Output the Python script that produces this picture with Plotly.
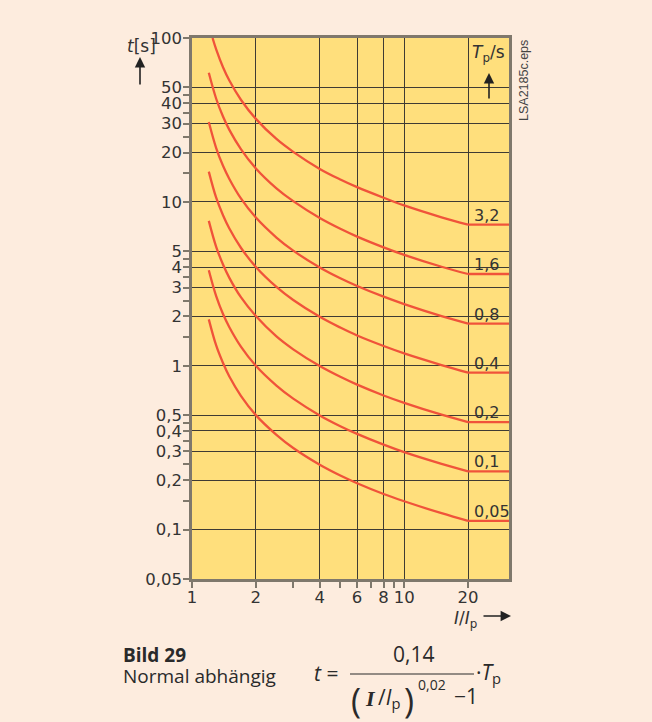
import math
import plotly.graph_objects as go

# Current multiple I/Ip at which each characteristic is tabulated
I_RATIO = [1.2, 1.3, 1.4, 1.5, 1.7, 2, 2.5, 3, 4, 5, 6, 8, 10, 15, 20]
I_RATIO_TOP = [1.25, 1.3, 1.4, 1.5, 1.7, 2, 2.5, 3, 4, 5, 6, 8, 10, 15, 20]
I_END = 31.2  # right edge of the diagram, curves are flat beyond I/Ip = 20

# Tripping time t [s] for each time multiplier setting Tp
T_3_2 = [100, 85.2, 66.3, 55.0, 42.0, 32.1, 24.2, 20.2, 15.9, 13.7, 12.3, 10.6, 9.51, 8.05, 7.26]
T_1_6 = [61.3, 42.6, 33.2, 27.5, 21.0, 16.0, 12.1, 10.1, 7.97, 6.85, 6.14, 5.28, 4.75, 4.02, 3.63]
T_0_8 = [30.7, 21.3, 16.6, 13.8, 10.5, 8.02, 6.06, 5.04, 3.98, 3.42, 3.07, 2.64, 2.38, 2.01, 1.81]
T_0_4 = [15.3, 10.6, 8.29, 6.88, 5.25, 4.01, 3.03, 2.52, 1.99, 1.71, 1.53, 1.32, 1.19, 1.01, 0.907]
T_0_2 = [7.66, 5.32, 4.15, 3.44, 2.62, 2.01, 1.51, 1.26, 0.996, 0.856, 0.767, 0.659, 0.594, 0.503, 0.453]
T_0_1 = [3.83, 2.66, 2.07, 1.72, 1.31, 1.00, 0.757, 0.630, 0.498, 0.428, 0.384, 0.330, 0.297, 0.252, 0.227]
T_0_05 = [1.92, 1.33, 1.04, 0.86, 0.656, 0.50, 0.379, 0.315, 0.249, 0.214, 0.192, 0.165, 0.149, 0.126, 0.113]

TP_LABELS = ["3,2", "1,6", "0,8", "0,4", "0,2", "0,1", "0,05"]

X_TICKS = [1, 2, 4, 6, 8, 10, 20]
X_MINOR = [3, 5, 7, 9]
Y_TICKS = [0.05, 0.1, 0.2, 0.3, 0.4, 0.5, 1, 2, 3, 4, 5, 10, 20, 30, 40, 50, 100]
Y_TICK_TEXT = ["0,05", "0,1", "0,2", "0,3", "0,4", "0,5", "1", "2", "3", "4", "5",
               "10", "20", "30", "40", "50", "100"]
Y_MINOR = [0.15, 0.25, 0.35, 0.45, 1.5, 2.5, 3.5, 4.5, 15, 25, 35, 45]

PAPER = "#fdecde"
PLOT = "#ffdf7c"
CURVE = "#f0533a"
GRID = "#3f3b33"
AXIS = "#7f786c"
TEXT = "#333333"
INK = "#2a2a2a"
FONT = "Open Sans"
NUM_FONT = "DejaVu Sans"

W, H = 652, 722
L, R, T, B = 192, 509, 38, 579


def px(x):
    return (x - L) / (R - L)


def py(y):
    return (B - y) / (B - T)


def note(x, y, text, size, family=FONT, color=INK, xanchor="left", **kw):
    fig.add_annotation(x=px(x), y=py(y), xref="paper", yref="paper", text=text,
                       showarrow=False, xanchor=xanchor, yanchor="middle",
                       font=dict(family=family, size=size, color=color), **kw)


def arrow(x, y, ax, ay):
    fig.add_annotation(x=px(x), y=py(y), xref="paper", yref="paper", text="",
                       showarrow=True, ax=ax, ay=ay, arrowhead=2, arrowsize=1.3,
                       arrowwidth=1.6, arrowcolor="#222222")


fig = go.Figure()

series = [
    (I_RATIO_TOP, T_3_2), (I_RATIO, T_1_6), (I_RATIO, T_0_8), (I_RATIO, T_0_4),
    (I_RATIO, T_0_2), (I_RATIO, T_0_1), (I_RATIO, T_0_05),
]

LABEL_LIFT = 10 ** (9.5 / 164)  # label centre sits ~9 px above the flat segment

for (xs, ts), lab in zip(series, TP_LABELS):
    fig.add_trace(go.Scatter(x=xs, y=ts, mode="lines",
                             line=dict(color=CURVE, width=2.3, shape="spline", smoothing=1.0),
                             hoverinfo="skip", showlegend=False))
    # constant definite time beyond 20 x Ip
    fig.add_trace(go.Scatter(x=[xs[-1], I_END], y=[ts[-1], ts[-1]], mode="lines",
                             line=dict(color=CURVE, width=2.3),
                             hoverinfo="skip", showlegend=False))
    # yellow patch interrupting the grid behind the label
    yc = ts[-1] * LABEL_LIFT
    fig.add_shape(type="rect", xref="paper", yref="y", layer="between",
                  x0=px(470), x1=px(501), y0=yc / 1.085, y1=yc * 1.085,
                  fillcolor=PLOT, line=dict(width=0))
    # log axes: annotation positions are given as log10 values
    fig.add_annotation(x=math.log10(20.8), y=math.log10(yc), xref="x", yref="y",
                       text=lab, showarrow=False,
                       xanchor="left", yanchor="middle",
                       font=dict(family=NUM_FONT, size=16, color=TEXT))

axis_common = dict(
    type="log", showline=True, mirror=True, linecolor=AXIS, linewidth=2.5,
    ticks="outside", ticklen=6, tickwidth=1.5, tickcolor=AXIS,
    showgrid=True, gridcolor=GRID, gridwidth=1, zeroline=False,
    tickfont=dict(family=NUM_FONT, size=16.5, color=TEXT),
)

fig.update_xaxes(**axis_common, range=[0, 1.494], tickmode="array",
                 tickvals=X_TICKS, ticktext=[str(v) for v in X_TICKS],
                 ticklabelstandoff=-5,
                 minor=dict(tickmode="array", tickvals=X_MINOR, ticks="outside",
                            ticklen=6, tickwidth=1.5, tickcolor=AXIS, showgrid=False))
fig.update_yaxes(**axis_common, range=[-1.30103, 2], tickmode="array",
                 tickvals=Y_TICKS, ticktext=Y_TICK_TEXT,
                 ticklabelstandoff=-2,
                 minor=dict(tickmode="array", tickvals=Y_MINOR, ticks="outside",
                            ticklen=6, tickwidth=1.5, tickcolor=AXIS, showgrid=False))

# axis captions with arrows
note(125, 46, "<i>t</i>[s]", 17, family=NUM_FONT, color=TEXT)
arrow(140, 57, 0, 29)

note(507, 53, "<i>T</i><sub>p</sub>/s", 17, family=NUM_FONT, color=TEXT, xanchor="right")
fig.add_shape(type="rect", xref="paper", yref="paper", layer="between",
              x0=px(479), x1=px(498), y0=py(88), y1=py(95),
              fillcolor=PLOT, line=dict(width=0))
arrow(489, 73, 0, 27)

note(479, 619, "<i>I</i>/<i>I</i><sub>p</sub>", 17, family=NUM_FONT, color=TEXT,
     xanchor="right")
arrow(511, 616, -29, 0)

note(515, 81, "LSA2185c.eps", 12.5, family="Liberation Sans", color="#444444",
     textangle=-90)

# caption
note(121, 655, "<b>Bild 29</b>", 19)
note(121, 676, "Normal abhängig", 19)

# formula  t = 0,14 / ((I/Ip)^0,02 - 1) * Tp
note(312, 673, "<i>t</i> =", 21)
note(413, 654, "0,14", 21, xanchor="center")
fig.add_shape(type="line", xref="paper", yref="paper",
              x0=px(350), x1=px(474), y0=py(674), y1=py(674),
              line=dict(color=INK, width=1.2))
note(356, 700, "(", 34, xanchor="center")
note(363, 698, "<b><i>I</i></b>", 22, family="Liberation Serif")
note(376, 698, "/<i>I</i><sub>p</sub>", 21)
note(409, 700, ")", 34, xanchor="center")
note(416, 684, "0,02", 14)
note(452, 696, "−1", 21)
note(474, 673, "·<i>T</i><sub>p</sub>", 21)

fig.update_layout(
    width=W, height=H,
    margin=dict(l=L, r=W - R, t=T, b=H - B),
    paper_bgcolor=PAPER, plot_bgcolor=PLOT,
    showlegend=False,
)

fig.write_html("out.html")
